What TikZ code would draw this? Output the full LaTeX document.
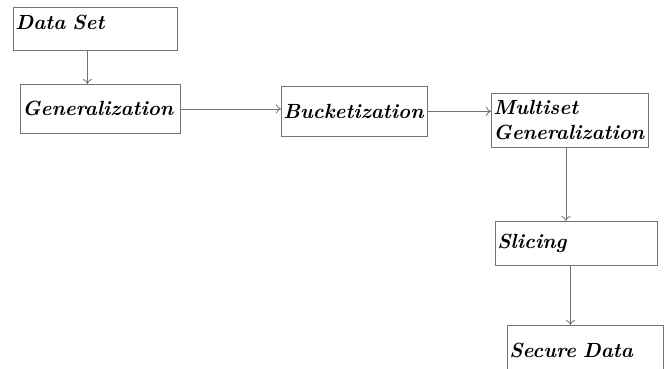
\documentclass[tikz,border=0pt]{standalone}
\usetikzlibrary{arrows.meta}

\begin{document}
\begin{tikzpicture}[x=1pt,y=-1pt,
  box/.style={draw=black!55, line width=0.8pt, anchor=north west, align=left,
    inner xsep=2pt, font=\fontsize{20.5}{25}\selectfont\bfseries\itshape},
  arr/.style={draw=black!55, line width=0.8pt, -{To[length=5pt,width=9pt]}}]
  \useasboundingbox (0,0) rectangle (665,368);
  \clip (0,0) rectangle (665,368);

  % boxes
  \node[box, text width=160pt, minimum height=43pt, text depth=13pt] (dataset) at (13,7) {Data Set};
  \node[box, text width=156pt, minimum height=49pt] (general) at (20,84) {Generalization};
  \node[box, text width=142pt, minimum height=50pt] (bucket) at (281,86) {Bucketization};
  \node[box, text width=153pt, minimum height=54pt, inner ysep=0pt] (multi) at (491,93) {Multiset\\Generalization};
  \node[box, text width=158pt, minimum height=44pt] (slicing) at (495,221) {Slicing};
  \node[box, text width=152pt, minimum height=50pt] (secure) at (507,325) {Secure Data};

  % flow
  \draw[arr] ([xshift=-8pt]dataset.south) -- ([xshift=-8pt]dataset.south |- general.north);
  \draw[arr] (general.east) -- (general.east -| bucket.west);
  \draw[arr] (bucket.east) -- (bucket.east -| multi.west);
  \draw[arr] ([xshift=-4pt]multi.south) -- ([xshift=-4pt]multi.south |- slicing.north);
  \draw[arr] ([xshift=-6pt]slicing.south) -- ([xshift=-6pt]slicing.south |- secure.north);
\end{tikzpicture}
\end{document}
